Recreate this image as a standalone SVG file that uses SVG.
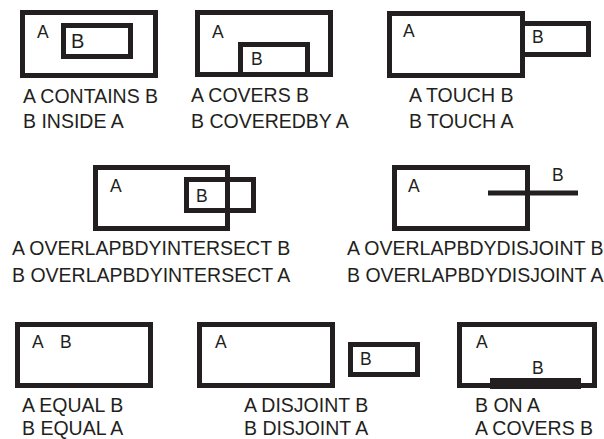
<svg xmlns="http://www.w3.org/2000/svg" width="604" height="439" viewBox="0 0 604 439">
<style>
.r{fill:none;stroke:#231f20;stroke-width:5}
.t{font-family:"Liberation Sans",Arial,sans-serif;font-size:19.5px;fill:#231f20}
.s{font-family:"Liberation Sans",Arial,sans-serif;font-size:17.5px;fill:#231f20}
</style>
<rect width="604" height="439" fill="#fff"/>
<g id="contains">
<rect class="r" x="22.5" y="12.5" width="133" height="63"/>
<rect class="r" x="63.5" y="25.5" width="67" height="31"/>
<text class="s" x="37" y="38">A</text>
<text class="s" x="71" y="48" style="font-size:20px">B</text>
<text class="t" x="23" y="103">A CONTAINS B</text>
<text class="t" x="23" y="128">B INSIDE A</text>
</g>
<g id="covers">
<rect class="r" x="197.5" y="12.5" width="133" height="62"/>
<rect class="r" x="240.5" y="44.5" width="67" height="30"/>
<text class="s" x="212" y="38">A</text>
<text class="s" x="251" y="65">B</text>
<text class="t" x="191" y="102">A COVERS B</text>
<text class="t" x="191" y="128">B COVEREDBY A</text>
</g>
<g id="touch">
<rect class="r" x="389.5" y="13.5" width="133" height="62"/>
<rect class="r" x="522.5" y="23.5" width="66" height="31"/>
<text class="s" x="403" y="37">A</text>
<text class="s" x="532" y="43">B</text>
<text class="t" x="409" y="102">A TOUCH B</text>
<text class="t" x="409" y="128">B TOUCH A</text>
</g>
<g id="overlapbdyintersect">
<rect class="r" x="95.5" y="167.5" width="132" height="61"/>
<rect class="r" x="186.5" y="179.5" width="67" height="31"/>
<text class="s" x="110" y="192">A</text>
<text class="s" x="196" y="202">B</text>
<text class="t" x="12" y="255">A OVERLAPBDYINTERSECT B</text>
<text class="t" x="12" y="282">B OVERLAPBDYINTERSECT A</text>
</g>
<g id="overlapbdydisjoint">
<rect class="r" x="394.5" y="167.5" width="133" height="61"/>
<line x1="488" y1="193" x2="578" y2="193" stroke="#231f20" stroke-width="5"/>
<text class="s" x="408" y="192">A</text>
<text class="s" x="552" y="181">B</text>
<text class="t" x="347" y="255">A OVERLAPBDYDISJOINT B</text>
<text class="t" x="347" y="282">B OVERLAPBDYDISJOINT A</text>
</g>
<g id="equal">
<rect class="r" x="17.5" y="324.5" width="133" height="61"/>
<text class="s" x="32" y="348">A</text>
<text class="s" x="60" y="348">B</text>
<text class="t" x="22" y="412">A EQUAL B</text>
<text class="t" x="22" y="435">B EQUAL A</text>
</g>
<g id="disjoint">
<rect class="r" x="199.5" y="324.5" width="133" height="61"/>
<rect class="r" x="350.5" y="344.5" width="67" height="30"/>
<text class="s" x="215" y="348">A</text>
<text class="s" x="360" y="365">B</text>
<text class="t" x="244" y="412">A DISJOINT B</text>
<text class="t" x="244" y="435">B DISJOINT A</text>
</g>
<g id="on">
<rect class="r" x="459.5" y="324.5" width="135" height="61"/>
<rect x="490" y="378" width="91" height="11" fill="#231f20"/>
<text class="s" x="476" y="348">A</text>
<text class="s" x="532" y="374">B</text>
<text class="t" x="475" y="412">B ON A</text>
<text class="t" x="475" y="435">A COVERS B</text>
</g>
</svg>
